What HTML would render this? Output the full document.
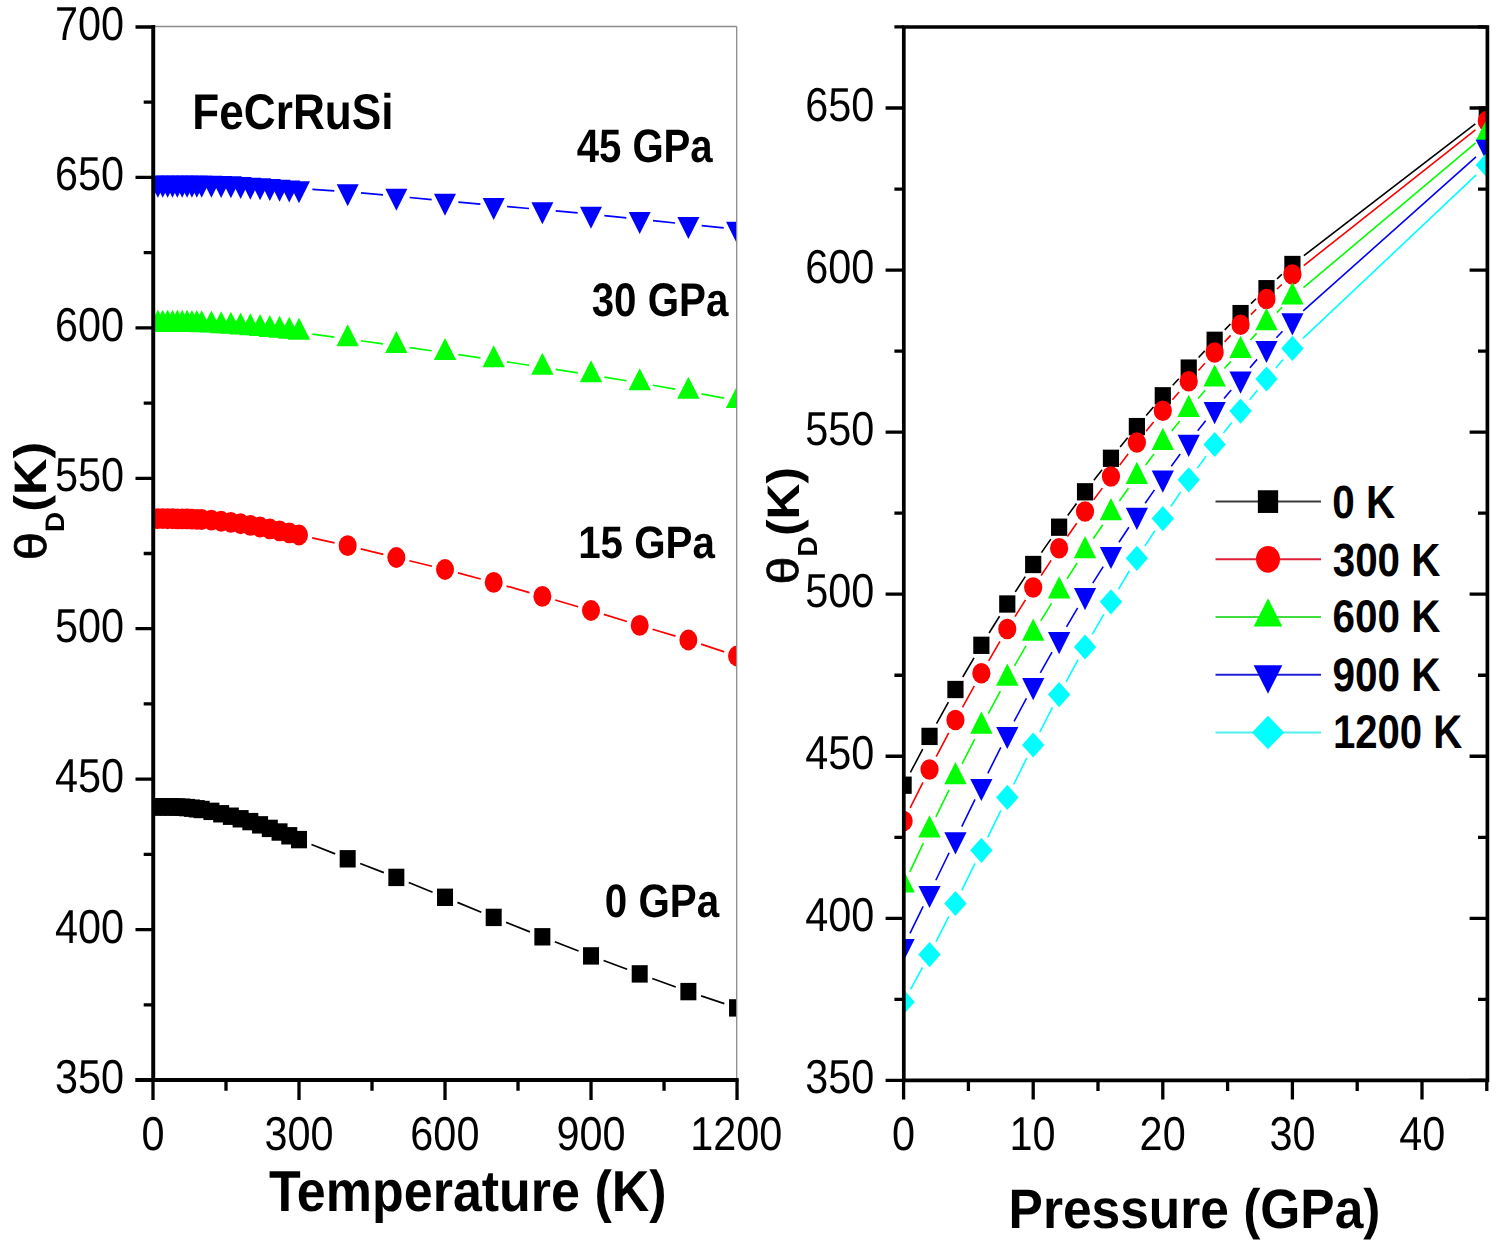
<!DOCTYPE html><html><head><meta charset="utf-8"><title>FeCrRuSi Debye temperature</title>
<style>html,body{margin:0;padding:0;background:#fff;overflow:hidden}svg{display:block}text{font-family:"Liberation Sans",sans-serif;text-rendering:geometricPrecision}.t{opacity:0.999}</style></head><body>
<svg width="1500" height="1255" viewBox="0 0 1500 1255">
<rect width="1500" height="1255" fill="#fff"/>
<defs><clipPath id="cl"><rect x="153" y="26.5" width="583.7" height="1053.5"/></clipPath><clipPath id="cr"><rect x="903.8" y="27" width="583.6" height="1053.4"/></clipPath></defs>
<g clip-path="url(#cl)">
<path d="M311.48 844.52L335.21 853.88M360.2 863.58L383.83 872.62M408.75 882.47L432.62 892.23M457.41 902.41L481.3 912.29M506.14 922.36L529.91 931.84M554.83 941.7L578.56 951M603.6 960.55L627.13 969.25M652.29 978.48L675.78 987.02M701.08 995.86L724.33 1003.64" stroke="#000000" stroke-width="1.7" fill="none"/>
<rect x="145" y="798.1" width="16" height="17.4" fill="#000000"/>
<rect x="149.87" y="798.11" width="16" height="17.4" fill="#000000"/>
<rect x="154.73" y="798.13" width="16" height="17.4" fill="#000000"/>
<rect x="159.6" y="798.18" width="16" height="17.4" fill="#000000"/>
<rect x="164.47" y="798.23" width="16" height="17.4" fill="#000000"/>
<rect x="169.34" y="798.3" width="16" height="17.4" fill="#000000"/>
<rect x="174.2" y="798.5" width="16" height="17.4" fill="#000000"/>
<rect x="179.07" y="798.9" width="16" height="17.4" fill="#000000"/>
<rect x="183.94" y="799.46" width="16" height="17.4" fill="#000000"/>
<rect x="188.8" y="800.11" width="16" height="17.4" fill="#000000"/>
<rect x="193.67" y="800.8" width="16" height="17.4" fill="#000000"/>
<rect x="203.4" y="802.65" width="16" height="17.4" fill="#000000"/>
<rect x="213.14" y="805.07" width="16" height="17.4" fill="#000000"/>
<rect x="222.87" y="807.52" width="16" height="17.4" fill="#000000"/>
<rect x="232.61" y="810.08" width="16" height="17.4" fill="#000000"/>
<rect x="242.34" y="812.9" width="16" height="17.4" fill="#000000"/>
<rect x="252.07" y="816.14" width="16" height="17.4" fill="#000000"/>
<rect x="261.81" y="819.69" width="16" height="17.4" fill="#000000"/>
<rect x="271.54" y="823.32" width="16" height="17.4" fill="#000000"/>
<rect x="281.28" y="827.09" width="16" height="17.4" fill="#000000"/>
<rect x="291.01" y="830.9" width="16" height="17.4" fill="#000000"/>
<rect x="339.68" y="850.1" width="16" height="17.4" fill="#000000"/>
<rect x="388.35" y="868.7" width="16" height="17.4" fill="#000000"/>
<rect x="437.02" y="888.6" width="16" height="17.4" fill="#000000"/>
<rect x="485.69" y="908.7" width="16" height="17.4" fill="#000000"/>
<rect x="534.36" y="928.1" width="16" height="17.4" fill="#000000"/>
<rect x="583.03" y="947.2" width="16" height="17.4" fill="#000000"/>
<rect x="631.7" y="965.2" width="16" height="17.4" fill="#000000"/>
<rect x="680.37" y="982.9" width="16" height="17.4" fill="#000000"/>
<rect x="729.04" y="999.2" width="16" height="17.4" fill="#000000"/>
<path d="M312.1 537.88L334.59 542.82M360.7 548.86L383.33 554.34M409.36 560.71L432.01 566.29M457.97 572.93L480.74 578.97M506.57 586.08L529.48 592.62M555.22 600.05L578.17 606.75M603.84 614.42L626.89 621.48M652.53 629.25L675.54 636.15M701.1 644.18L724.31 651.82" stroke="#ff0000" stroke-width="1.7" fill="none"/>
<ellipse cx="153" cy="518.7" rx="9" ry="10.4" fill="#ff0000"/>
<ellipse cx="157.87" cy="518.7" rx="9" ry="10.4" fill="#ff0000"/>
<ellipse cx="162.73" cy="518.72" rx="9" ry="10.4" fill="#ff0000"/>
<ellipse cx="167.6" cy="518.74" rx="9" ry="10.4" fill="#ff0000"/>
<ellipse cx="172.47" cy="518.77" rx="9" ry="10.4" fill="#ff0000"/>
<ellipse cx="177.34" cy="518.8" rx="9" ry="10.4" fill="#ff0000"/>
<ellipse cx="182.2" cy="518.86" rx="9" ry="10.4" fill="#ff0000"/>
<ellipse cx="187.07" cy="518.97" rx="9" ry="10.4" fill="#ff0000"/>
<ellipse cx="191.94" cy="519.12" rx="9" ry="10.4" fill="#ff0000"/>
<ellipse cx="196.8" cy="519.3" rx="9" ry="10.4" fill="#ff0000"/>
<ellipse cx="201.67" cy="519.5" rx="9" ry="10.4" fill="#ff0000"/>
<ellipse cx="211.4" cy="520.2" rx="9" ry="10.4" fill="#ff0000"/>
<ellipse cx="221.14" cy="521.24" rx="9" ry="10.4" fill="#ff0000"/>
<ellipse cx="230.87" cy="522.39" rx="9" ry="10.4" fill="#ff0000"/>
<ellipse cx="240.61" cy="523.77" rx="9" ry="10.4" fill="#ff0000"/>
<ellipse cx="250.34" cy="525.3" rx="9" ry="10.4" fill="#ff0000"/>
<ellipse cx="260.07" cy="526.99" rx="9" ry="10.4" fill="#ff0000"/>
<ellipse cx="269.81" cy="528.84" rx="9" ry="10.4" fill="#ff0000"/>
<ellipse cx="279.54" cy="530.79" rx="9" ry="10.4" fill="#ff0000"/>
<ellipse cx="289.28" cy="532.87" rx="9" ry="10.4" fill="#ff0000"/>
<ellipse cx="299.01" cy="535" rx="9" ry="10.4" fill="#ff0000"/>
<ellipse cx="347.68" cy="545.7" rx="9" ry="10.4" fill="#ff0000"/>
<ellipse cx="396.35" cy="557.5" rx="9" ry="10.4" fill="#ff0000"/>
<ellipse cx="445.02" cy="569.5" rx="9" ry="10.4" fill="#ff0000"/>
<ellipse cx="493.69" cy="582.4" rx="9" ry="10.4" fill="#ff0000"/>
<ellipse cx="542.36" cy="596.3" rx="9" ry="10.4" fill="#ff0000"/>
<ellipse cx="591.03" cy="610.5" rx="9" ry="10.4" fill="#ff0000"/>
<ellipse cx="639.7" cy="625.4" rx="9" ry="10.4" fill="#ff0000"/>
<ellipse cx="688.37" cy="640" rx="9" ry="10.4" fill="#ff0000"/>
<ellipse cx="737.04" cy="656" rx="9" ry="10.4" fill="#ff0000"/>
<path d="M312.29 334.17L334.4 337.13M360.95 340.75L383.08 343.85M409.62 347.58L431.75 350.72M458.28 354.56L480.43 357.84M506.93 361.84L529.12 365.26M555.6 369.37L577.79 372.83M604.25 377.07L626.48 380.73M652.9 385.23L675.17 389.17M701.54 393.96L723.87 398.14" stroke="#00ff00" stroke-width="1.7" fill="none"/>
<polygon points="153,309.63 164.2,331.63 141.8,331.63" fill="#00ff00"/>
<polygon points="157.87,309.64 169.07,331.64 146.67,331.64" fill="#00ff00"/>
<polygon points="162.73,309.65 173.93,331.65 151.53,331.65" fill="#00ff00"/>
<polygon points="167.6,309.68 178.8,331.68 156.4,331.68" fill="#00ff00"/>
<polygon points="172.47,309.7 183.67,331.7 161.27,331.7" fill="#00ff00"/>
<polygon points="177.34,309.73 188.53,331.73 166.14,331.73" fill="#00ff00"/>
<polygon points="182.2,309.78 193.4,331.78 171,331.78" fill="#00ff00"/>
<polygon points="187.07,309.84 198.27,331.84 175.87,331.84" fill="#00ff00"/>
<polygon points="191.94,309.92 203.14,331.92 180.74,331.92" fill="#00ff00"/>
<polygon points="196.8,310.02 208,332.02 185.6,332.02" fill="#00ff00"/>
<polygon points="201.67,310.13 212.87,332.13 190.47,332.13" fill="#00ff00"/>
<polygon points="211.4,310.56 222.6,332.56 200.2,332.56" fill="#00ff00"/>
<polygon points="221.14,311.21 232.34,333.21 209.94,333.21" fill="#00ff00"/>
<polygon points="230.87,311.86 242.07,333.86 219.67,333.86" fill="#00ff00"/>
<polygon points="240.61,312.58 251.81,334.58 229.41,334.58" fill="#00ff00"/>
<polygon points="250.34,313.33 261.54,335.33 239.14,335.33" fill="#00ff00"/>
<polygon points="260.07,314.1 271.27,336.1 248.87,336.1" fill="#00ff00"/>
<polygon points="269.81,314.91 281.01,336.91 258.61,336.91" fill="#00ff00"/>
<polygon points="279.54,315.78 290.74,337.78 268.34,337.78" fill="#00ff00"/>
<polygon points="289.28,316.71 300.48,338.71 278.08,338.71" fill="#00ff00"/>
<polygon points="299.01,317.73 310.21,339.73 287.81,339.73" fill="#00ff00"/>
<polygon points="347.68,324.23 358.88,346.23 336.48,346.23" fill="#00ff00"/>
<polygon points="396.35,331.03 407.55,353.03 385.15,353.03" fill="#00ff00"/>
<polygon points="445.02,337.93 456.22,359.93 433.82,359.93" fill="#00ff00"/>
<polygon points="493.69,345.13 504.89,367.13 482.49,367.13" fill="#00ff00"/>
<polygon points="542.36,352.63 553.56,374.63 531.16,374.63" fill="#00ff00"/>
<polygon points="591.03,360.23 602.23,382.23 579.83,382.23" fill="#00ff00"/>
<polygon points="639.7,368.23 650.9,390.23 628.5,390.23" fill="#00ff00"/>
<polygon points="688.37,376.83 699.57,398.83 677.17,398.83" fill="#00ff00"/>
<polygon points="737.04,385.93 748.24,407.93 725.84,407.93" fill="#00ff00"/>
<path d="M312.38 189.45L334.31 190.85M361.02 192.93L383.01 194.97M409.69 197.52L431.68 199.68M458.37 202.18L480.34 204.12M507.04 206.51L529.01 208.49M555.7 210.93L577.69 212.97M604.36 215.6L626.37 217.9M653.03 220.7L675.04 223M701.71 225.72L723.7 227.88" stroke="#0000ff" stroke-width="1.7" fill="none"/>
<polygon points="153,197.67 164,175.67 142,175.67" fill="#0000ff"/>
<polygon points="157.87,197.67 168.87,175.67 146.87,175.67" fill="#0000ff"/>
<polygon points="162.73,197.67 173.73,175.67 151.73,175.67" fill="#0000ff"/>
<polygon points="167.6,197.67 178.6,175.67 156.6,175.67" fill="#0000ff"/>
<polygon points="172.47,197.67 183.47,175.67 161.47,175.67" fill="#0000ff"/>
<polygon points="177.34,197.67 188.34,175.67 166.34,175.67" fill="#0000ff"/>
<polygon points="182.2,197.67 193.2,175.67 171.2,175.67" fill="#0000ff"/>
<polygon points="187.07,197.67 198.07,175.67 176.07,175.67" fill="#0000ff"/>
<polygon points="191.94,197.67 202.94,175.67 180.94,175.67" fill="#0000ff"/>
<polygon points="196.8,197.67 207.8,175.67 185.8,175.67" fill="#0000ff"/>
<polygon points="201.67,197.67 212.67,175.67 190.67,175.67" fill="#0000ff"/>
<polygon points="211.4,197.77 222.4,175.77 200.4,175.77" fill="#0000ff"/>
<polygon points="221.14,198.02 232.14,176.02 210.14,176.02" fill="#0000ff"/>
<polygon points="230.87,198.37 241.87,176.37 219.87,176.37" fill="#0000ff"/>
<polygon points="240.61,198.99 251.61,176.99 229.61,176.99" fill="#0000ff"/>
<polygon points="250.34,199.67 261.34,177.67 239.34,177.67" fill="#0000ff"/>
<polygon points="260.07,200.28 271.07,178.28 249.07,178.28" fill="#0000ff"/>
<polygon points="269.81,200.92 280.81,178.92 258.81,178.92" fill="#0000ff"/>
<polygon points="279.54,201.65 290.54,179.65 268.54,179.65" fill="#0000ff"/>
<polygon points="289.28,202.48 300.28,180.48 278.28,180.48" fill="#0000ff"/>
<polygon points="299.01,203.27 310.01,181.27 288.01,181.27" fill="#0000ff"/>
<polygon points="347.68,206.37 358.68,184.37 336.68,184.37" fill="#0000ff"/>
<polygon points="396.35,210.87 407.35,188.87 385.35,188.87" fill="#0000ff"/>
<polygon points="445.02,215.67 456.02,193.67 434.02,193.67" fill="#0000ff"/>
<polygon points="493.69,219.97 504.69,197.97 482.69,197.97" fill="#0000ff"/>
<polygon points="542.36,224.37 553.36,202.37 531.36,202.37" fill="#0000ff"/>
<polygon points="591.03,228.87 602.03,206.87 580.03,206.87" fill="#0000ff"/>
<polygon points="639.7,233.97 650.7,211.97 628.7,211.97" fill="#0000ff"/>
<polygon points="688.37,239.07 699.37,217.07 677.37,217.07" fill="#0000ff"/>
<polygon points="737.04,243.87 748.04,221.87 726.04,221.87" fill="#0000ff"/>
</g>
<g clip-path="url(#cr)">
<path d="M910.4 772.39L922.72 749.21M936.53 723.71L948.43 702.19M962.77 676.99L974.03 657.81M989.07 633.02L999.57 616.28M1015.24 591.88L1025.24 576.62M1041.47 552.59L1050.85 539.11M1067.69 515.5L1076.47 503.5M1093.91 480.33L1102.09 469.77M1120.14 447.07L1127.7 437.83M1146.22 415.51L1153.46 406.89M1172.71 385.21L1178.81 378.69M1198.61 357.49L1204.75 350.91M1224.74 329.9L1230.46 324M1251.02 303.55L1256.02 298.75M1277.08 278.8L1281.8 274.4M1303.89 255.66L1475.31 123.84" stroke="#000000" stroke-width="1.6" fill="none"/>
<rect x="895.5" y="776.55" width="16.2" height="17.3" fill="#000000"/>
<rect x="921.42" y="727.75" width="16.2" height="17.3" fill="#000000"/>
<rect x="947.34" y="680.85" width="16.2" height="17.3" fill="#000000"/>
<rect x="973.26" y="636.65" width="16.2" height="17.3" fill="#000000"/>
<rect x="999.18" y="595.35" width="16.2" height="17.3" fill="#000000"/>
<rect x="1025.1" y="555.85" width="16.2" height="17.3" fill="#000000"/>
<rect x="1051.02" y="518.55" width="16.2" height="17.3" fill="#000000"/>
<rect x="1076.94" y="483.15" width="16.2" height="17.3" fill="#000000"/>
<rect x="1102.86" y="449.65" width="16.2" height="17.3" fill="#000000"/>
<rect x="1128.78" y="417.95" width="16.2" height="17.3" fill="#000000"/>
<rect x="1154.7" y="387.15" width="16.2" height="17.3" fill="#000000"/>
<rect x="1180.62" y="359.45" width="16.2" height="17.3" fill="#000000"/>
<rect x="1206.54" y="331.65" width="16.2" height="17.3" fill="#000000"/>
<rect x="1232.46" y="304.95" width="16.2" height="17.3" fill="#000000"/>
<rect x="1258.38" y="280.05" width="16.2" height="17.3" fill="#000000"/>
<rect x="1284.3" y="255.85" width="16.2" height="17.3" fill="#000000"/>
<rect x="1478.7" y="106.35" width="16.2" height="17.3" fill="#000000"/>
<path d="M910.13 807.95L922.99 782.45M936.25 756.65L948.71 732.85M962.48 707.32L974.32 685.98M988.67 660.78L999.97 641.42M1014.99 616.62L1025.49 599.88M1041.18 575.5L1051.14 560.4M1067.45 536.43L1076.71 523.27M1093.69 499.76L1102.31 488.14M1119.75 464.97L1128.09 454.03M1146.04 431.26L1153.64 421.94M1172.37 399.81L1179.15 392.09M1198.44 370.44L1204.92 363.26M1224.55 341.91L1230.65 335.39M1250.84 314.57L1256.2 309.23M1277.02 289.04L1281.86 284.46M1303.78 265.51L1475.42 129.99" stroke="#ff0000" stroke-width="1.6" fill="none"/>
<ellipse cx="903.6" cy="820.9" rx="9.1" ry="10.25" fill="#ff0000"/>
<ellipse cx="929.52" cy="769.5" rx="9.1" ry="10.25" fill="#ff0000"/>
<ellipse cx="955.44" cy="720" rx="9.1" ry="10.25" fill="#ff0000"/>
<ellipse cx="981.36" cy="673.3" rx="9.1" ry="10.25" fill="#ff0000"/>
<ellipse cx="1007.28" cy="628.9" rx="9.1" ry="10.25" fill="#ff0000"/>
<ellipse cx="1033.2" cy="587.6" rx="9.1" ry="10.25" fill="#ff0000"/>
<ellipse cx="1059.12" cy="548.3" rx="9.1" ry="10.25" fill="#ff0000"/>
<ellipse cx="1085.04" cy="511.4" rx="9.1" ry="10.25" fill="#ff0000"/>
<ellipse cx="1110.96" cy="476.5" rx="9.1" ry="10.25" fill="#ff0000"/>
<ellipse cx="1136.88" cy="442.5" rx="9.1" ry="10.25" fill="#ff0000"/>
<ellipse cx="1162.8" cy="410.7" rx="9.1" ry="10.25" fill="#ff0000"/>
<ellipse cx="1188.72" cy="381.2" rx="9.1" ry="10.25" fill="#ff0000"/>
<ellipse cx="1214.64" cy="352.5" rx="9.1" ry="10.25" fill="#ff0000"/>
<ellipse cx="1240.56" cy="324.8" rx="9.1" ry="10.25" fill="#ff0000"/>
<ellipse cx="1266.48" cy="299" rx="9.1" ry="10.25" fill="#ff0000"/>
<ellipse cx="1292.4" cy="274.5" rx="9.1" ry="10.25" fill="#ff0000"/>
<ellipse cx="1486.8" cy="121" rx="9.1" ry="10.25" fill="#ff0000"/>
<path d="M909.78 871.88L923.34 843.12M935.87 816.96L949.09 789.84M962.06 763.9L974.74 739.2M988.26 713.55L1000.38 691.15M1014.51 665.83L1025.97 645.87M1040.78 620.94L1051.54 603.36M1066.98 578.81L1077.18 562.99M1093.21 538.82L1102.79 524.78M1119.39 501L1128.45 488.3M1145.67 464.97L1154.01 454.03M1171.76 431.1L1179.76 420.9M1198.15 398.48L1205.21 390.22M1224.38 368.46L1230.82 361.34M1250.45 339.99L1256.59 333.41M1276.76 312.57L1282.12 307.23M1303.5 287.67L1475.7 142.83" stroke="#00ff00" stroke-width="1.6" fill="none"/>
<polygon points="903.6,870.2 914.8,892.4 892.4,892.4" fill="#00ff00"/>
<polygon points="929.52,815.2 940.72,837.4 918.32,837.4" fill="#00ff00"/>
<polygon points="955.44,762 966.64,784.2 944.24,784.2" fill="#00ff00"/>
<polygon points="981.36,711.5 992.56,733.7 970.16,733.7" fill="#00ff00"/>
<polygon points="1007.28,663.6 1018.48,685.8 996.08,685.8" fill="#00ff00"/>
<polygon points="1033.2,618.5 1044.4,640.7 1022,640.7" fill="#00ff00"/>
<polygon points="1059.12,576.2 1070.32,598.4 1047.92,598.4" fill="#00ff00"/>
<polygon points="1085.04,536 1096.24,558.2 1073.84,558.2" fill="#00ff00"/>
<polygon points="1110.96,498 1122.16,520.2 1099.76,520.2" fill="#00ff00"/>
<polygon points="1136.88,461.7 1148.08,483.9 1125.68,483.9" fill="#00ff00"/>
<polygon points="1162.8,427.7 1174,449.9 1151.6,449.9" fill="#00ff00"/>
<polygon points="1188.72,394.7 1199.92,416.9 1177.52,416.9" fill="#00ff00"/>
<polygon points="1214.64,364.4 1225.84,386.6 1203.44,386.6" fill="#00ff00"/>
<polygon points="1240.56,335.8 1251.76,358 1229.36,358" fill="#00ff00"/>
<polygon points="1266.48,308 1277.68,330.2 1255.28,330.2" fill="#00ff00"/>
<polygon points="1292.4,282.2 1303.6,304.4 1281.2,304.4" fill="#00ff00"/>
<polygon points="1486.8,118.7 1498,140.9 1475.6,140.9" fill="#00ff00"/>
<path d="M909.96 933.37L923.16 906.33M935.83 880.25L949.13 852.75M961.77 826.66L975.03 799.34M987.83 773.32L1000.81 747.28M1014.08 721.49L1026.4 698.31M1040.31 672.86L1052.01 652.04M1066.48 626.91L1077.68 607.89M1092.77 583.14L1103.23 566.56M1118.96 542.2L1128.88 527.2M1145.18 503.21L1154.5 489.89M1171.3 466.26L1180.22 453.94M1197.73 430.84L1205.63 420.86M1224.01 398.44L1231.19 389.96M1249.93 367.84L1257.11 359.36M1276.39 337.71L1282.49 331.19M1303.22 310.95L1475.98 156.85" stroke="#0000ff" stroke-width="1.6" fill="none"/>
<polygon points="903.6,961.2 914.7,939 892.5,939" fill="#0000ff"/>
<polygon points="929.52,908.1 940.62,885.9 918.42,885.9" fill="#0000ff"/>
<polygon points="955.44,854.5 966.54,832.3 944.34,832.3" fill="#0000ff"/>
<polygon points="981.36,801.1 992.46,778.9 970.26,778.9" fill="#0000ff"/>
<polygon points="1007.28,749.1 1018.38,726.9 996.18,726.9" fill="#0000ff"/>
<polygon points="1033.2,700.3 1044.3,678.1 1022.1,678.1" fill="#0000ff"/>
<polygon points="1059.12,654.2 1070.22,632 1048.02,632" fill="#0000ff"/>
<polygon points="1085.04,610.2 1096.14,588 1073.94,588" fill="#0000ff"/>
<polygon points="1110.96,569.1 1122.06,546.9 1099.86,546.9" fill="#0000ff"/>
<polygon points="1136.88,529.9 1147.98,507.7 1125.78,507.7" fill="#0000ff"/>
<polygon points="1162.8,492.8 1173.9,470.6 1151.7,470.6" fill="#0000ff"/>
<polygon points="1188.72,457 1199.82,434.8 1177.62,434.8" fill="#0000ff"/>
<polygon points="1214.64,424.3 1225.74,402.1 1203.54,402.1" fill="#0000ff"/>
<polygon points="1240.56,393.7 1251.66,371.5 1229.46,371.5" fill="#0000ff"/>
<polygon points="1266.48,363.1 1277.58,340.9 1255.38,340.9" fill="#0000ff"/>
<polygon points="1292.4,335.4 1303.5,313.2 1281.3,313.2" fill="#0000ff"/>
<polygon points="1486.8,162 1497.9,139.8 1475.7,139.8" fill="#0000ff"/>
<path d="M910.56 989.28L922.56 967.32M936.08 941.67L948.88 916.43M961.79 890.46L975.01 863.34M987.74 837.28L1000.9 810.42M1013.71 784.4L1026.77 758M1039.83 732.11L1052.49 707.49M1066.05 681.87L1078.11 659.73M1092.25 634.42L1103.75 614.38M1118.38 589.34L1129.46 570.76M1144.81 546.16L1154.87 530.74M1170.85 506.54L1180.67 491.86M1197.3 468.11L1206.06 456.19M1223.53 433.04L1231.67 422.56M1249.67 399.82L1257.37 390.28M1275.85 367.94L1283.03 359.46M1302.95 338.45L1476.25 174.95" stroke="#00ffff" stroke-width="1.6" fill="none"/>
<polygon points="903.6,989.4 914.8,1002 903.6,1014.6 892.4,1002" fill="#00ffff"/>
<polygon points="929.52,942 940.72,954.6 929.52,967.2 918.32,954.6" fill="#00ffff"/>
<polygon points="955.44,890.9 966.64,903.5 955.44,916.1 944.24,903.5" fill="#00ffff"/>
<polygon points="981.36,837.7 992.56,850.3 981.36,862.9 970.16,850.3" fill="#00ffff"/>
<polygon points="1007.28,784.8 1018.48,797.4 1007.28,810 996.08,797.4" fill="#00ffff"/>
<polygon points="1033.2,732.4 1044.4,745 1033.2,757.6 1022,745" fill="#00ffff"/>
<polygon points="1059.12,682 1070.32,694.6 1059.12,707.2 1047.92,694.6" fill="#00ffff"/>
<polygon points="1085.04,634.4 1096.24,647 1085.04,659.6 1073.84,647" fill="#00ffff"/>
<polygon points="1110.96,589.2 1122.16,601.8 1110.96,614.4 1099.76,601.8" fill="#00ffff"/>
<polygon points="1136.88,545.7 1148.08,558.3 1136.88,570.9 1125.68,558.3" fill="#00ffff"/>
<polygon points="1162.8,506 1174,518.6 1162.8,531.2 1151.6,518.6" fill="#00ffff"/>
<polygon points="1188.72,467.2 1199.92,479.8 1188.72,492.4 1177.52,479.8" fill="#00ffff"/>
<polygon points="1214.64,431.9 1225.84,444.5 1214.64,457.1 1203.44,444.5" fill="#00ffff"/>
<polygon points="1240.56,398.5 1251.76,411.1 1240.56,423.7 1229.36,411.1" fill="#00ffff"/>
<polygon points="1266.48,366.4 1277.68,379 1266.48,391.6 1255.28,379" fill="#00ffff"/>
<polygon points="1292.4,335.8 1303.6,348.4 1292.4,361 1281.2,348.4" fill="#00ffff"/>
<polygon points="1486.8,152.4 1498,165 1486.8,177.6 1475.6,165" fill="#00ffff"/>
</g>
<g stroke="#8c8c8c" stroke-width="1.3" fill="none"><path d="M153 26.5H736.7"/><path d="M736.7 26.5V1080"/></g>
<path d="M153.3 25V1081.5M135.5 1080H738.5M135.5 27H153M135.5 177.43H153M135.5 327.86H153M135.5 478.29H153M135.5 628.71H153M135.5 779.14H153M135.5 929.57H153M135.5 1080H153M143.7 102.21H153M143.7 252.64H153M143.7 403.07H153M143.7 553.5H153M143.7 703.93H153M143.7 854.36H153M143.7 1004.79H153M153 1080V1100M299.01 1080V1100M445.02 1080V1100M591.03 1080V1100M737.04 1080V1100M226 1080V1090.7M372.01 1080V1090.7M518.03 1080V1090.7M664.04 1080V1090.7" stroke="#000" stroke-width="3.3" fill="none"/>
<path d="M153.3 25V1081.5M135.5 1080H738.5" stroke="#000" stroke-width="3.8" fill="none"/>
<path d="M885.6 1080.4H903.8M885.6 108H903.8M1469.6 108H1487.4M885.6 270.06H903.8M1469.6 270.06H1487.4M885.6 432.13H903.8M1469.6 432.13H1487.4M885.6 594.19H903.8M1469.6 594.19H1487.4M885.6 756.26H903.8M1469.6 756.26H1487.4M885.6 918.32H903.8M1469.6 918.32H1487.4M885.6 1080.39H903.8M1469.6 1080.39H1487.4M894.4 26.97H903.8M1478 26.97H1487.4M894.4 189.03H903.8M1478 189.03H1487.4M894.4 351.1H903.8M1478 351.1H1487.4M894.4 513.16H903.8M1478 513.16H1487.4M894.4 675.23H903.8M1478 675.23H1487.4M894.4 837.29H903.8M1478 837.29H1487.4M894.4 999.36H903.8M1478 999.36H1487.4M903.6 1080.4V1099.6M1033.2 1080.4V1099.6M1162.8 1080.4V1099.6M1292.4 1080.4V1099.6M1422 1080.4V1099.6M968.4 1080.4V1091M1098 1080.4V1091M1227.6 1080.4V1091M1357.2 1080.4V1091M1486.8 1080.4V1091" stroke="#000" stroke-width="3.3" fill="none" stroke-linejoin="miter"/>
<path d="M903.8 27H1487.4V1080.4H903.8Z" stroke="#000" stroke-width="3.7" fill="none" stroke-linejoin="miter"/>
<g class="t">
<text transform="matrix(0.41412 0 0 0.476 55.0055 40.022)" font-size="100" font-weight="normal" fill="#000">700</text>
<text transform="matrix(0.41412 0 0 0.476 55.0055 190.4505)" font-size="100" font-weight="normal" fill="#000">650</text>
<text transform="matrix(0.41412 0 0 0.476 55.0055 340.879)" font-size="100" font-weight="normal" fill="#000">600</text>
<text transform="matrix(0.41412 0 0 0.476 55.0055 491.3075)" font-size="100" font-weight="normal" fill="#000">550</text>
<text transform="matrix(0.41412 0 0 0.476 55.0055 641.736)" font-size="100" font-weight="normal" fill="#000">500</text>
<text transform="matrix(0.41412 0 0 0.476 55.0055 792.1645)" font-size="100" font-weight="normal" fill="#000">450</text>
<text transform="matrix(0.41412 0 0 0.476 55.0055 942.593)" font-size="100" font-weight="normal" fill="#000">400</text>
<text transform="matrix(0.41412 0 0 0.476 55.0055 1093.0215)" font-size="100" font-weight="normal" fill="#000">350</text>
<text transform="matrix(0.41412 0 0 0.476 141.50817 1149.72)" font-size="100" font-weight="normal" fill="#000">0</text>
<text transform="matrix(0.41412 0 0 0.476 264.53451 1149.72)" font-size="100" font-weight="normal" fill="#000">300</text>
<text transform="matrix(0.41412 0 0 0.476 410.33745 1149.72)" font-size="100" font-weight="normal" fill="#000">600</text>
<text transform="matrix(0.41412 0 0 0.476 556.45098 1149.72)" font-size="100" font-weight="normal" fill="#000">900</text>
<text transform="matrix(0.41412 0 0 0.476 690.24444 1149.72)" font-size="100" font-weight="normal" fill="#000">1200</text>
<text transform="matrix(0.41412 0 0 0.476 805.3055 120.822)" font-size="100" font-weight="normal" fill="#000">650</text>
<text transform="matrix(0.41412 0 0 0.476 805.3055 282.887)" font-size="100" font-weight="normal" fill="#000">600</text>
<text transform="matrix(0.41412 0 0 0.476 805.3055 444.952)" font-size="100" font-weight="normal" fill="#000">550</text>
<text transform="matrix(0.41412 0 0 0.476 805.3055 607.017)" font-size="100" font-weight="normal" fill="#000">500</text>
<text transform="matrix(0.41412 0 0 0.476 805.3055 769.082)" font-size="100" font-weight="normal" fill="#000">450</text>
<text transform="matrix(0.41412 0 0 0.476 805.3055 931.147)" font-size="100" font-weight="normal" fill="#000">400</text>
<text transform="matrix(0.41412 0 0 0.476 805.3055 1093.212)" font-size="100" font-weight="normal" fill="#000">350</text>
<text transform="matrix(0.41412 0 0 0.476 892.10817 1149.92)" font-size="100" font-weight="normal" fill="#000">0</text>
<text transform="matrix(0.41412 0 0 0.476 1009.49163 1149.92)" font-size="100" font-weight="normal" fill="#000">10</text>
<text transform="matrix(0.41412 0 0 0.476 1139.60928 1149.92)" font-size="100" font-weight="normal" fill="#000">20</text>
<text transform="matrix(0.41412 0 0 0.476 1269.41634 1149.92)" font-size="100" font-weight="normal" fill="#000">30</text>
<text transform="matrix(0.41412 0 0 0.476 1399.32693 1149.92)" font-size="100" font-weight="normal" fill="#000">40</text>
<text transform="matrix(0.51976 0 0 0.57754 268.98024 1211.37166)" font-size="100" font-weight="bold" fill="#000">Temperature (K)</text>
<text transform="matrix(0.51469 0 0 0.55508 1008.55453 1228.04332)" font-size="100" font-weight="bold" fill="#000">Pressure (GPa)</text>
<text transform="matrix(0 -0.50549 0.44218 0 46.05782 560.12747)" font-size="100" font-weight="normal" fill="#000" stroke="#000" stroke-width="1.6">θ</text>
<text transform="matrix(0 -0.27967 0.26812 0 63.7 532.01789)" font-size="100" font-weight="bold" fill="#000">D</text>
<text transform="matrix(0 -0.50388 0.45561 0 46.43209 511.71938)" font-size="100" font-weight="bold" fill="#000">(K)</text>
<text transform="matrix(0 -0.5033 0.43401 0 798.46599 584.51648)" font-size="100" font-weight="normal" fill="#000" stroke="#000" stroke-width="1.6">θ</text>
<text transform="matrix(0 -0.27805 0.27681 0 816.7 556.40732)" font-size="100" font-weight="bold" fill="#000">D</text>
<text transform="matrix(0 -0.49845 0.45561 0 799.43209 536.09225)" font-size="100" font-weight="bold" fill="#000">(K)</text>
<text transform="matrix(0.44163 0 0 0.50204 192.32941 129.29796)" font-size="100" font-weight="bold" fill="#000">FeCrRuSi</text>
<text transform="matrix(0.40089 0 0 0.46901 576.69867 162.33099)" font-size="100" font-weight="bold" fill="#000">45 GPa</text>
<text transform="matrix(0.40296 0 0 0.47183 591.69259 315.72817)" font-size="100" font-weight="bold" fill="#000">30 GPa</text>
<text transform="matrix(0.403 0 0 0.45352 578.18051 558.14648)" font-size="100" font-weight="bold" fill="#000">15 GPa</text>
<text transform="matrix(0.40321 0 0 0.46901 604.78717 917.33099)" font-size="100" font-weight="bold" fill="#000">0 GPa</text>
</g>
<path d="M1215.5 501.6H1321" stroke="#3a3a3a" stroke-width="2"/>
<rect x="1257.85" y="490.25" width="20.3" height="22.7" fill="#000000"/>
<g class="t">
<text transform="matrix(0.40399 0 0 0.4662 1332.18405 517.7338)" font-size="100" font-weight="bold" fill="#000">0 K</text>
</g>
<path d="M1215.5 559.3H1321" stroke="#e0203a" stroke-width="2"/>
<ellipse cx="1268" cy="559.3" rx="12" ry="13.4" fill="#ff0000"/>
<g class="t">
<text transform="matrix(0.40304 0 0 0.4662 1332.7924 575.7338)" font-size="100" font-weight="bold" fill="#000">300 K</text>
</g>
<path d="M1215.5 617H1321" stroke="#40e040" stroke-width="2"/>
<polygon points="1268,598.2 1282.35,626.4 1253.65,626.4" fill="#00ff00"/>
<g class="t">
<text transform="matrix(0.40458 0 0 0.45775 1332.38397 632.44225)" font-size="100" font-weight="bold" fill="#000">600 K</text>
</g>
<path d="M1215.5 674.7H1321" stroke="#2020d8" stroke-width="2"/>
<polygon points="1268,693.83 1282.35,665.13 1253.65,665.13" fill="#0000ff"/>
<g class="t">
<text transform="matrix(0.40496 0 0 0.47324 1332.48263 690.72676)" font-size="100" font-weight="bold" fill="#000">900 K</text>
</g>
<path d="M1215.5 732.4H1321" stroke="#50f0f0" stroke-width="2"/>
<polygon points="1268,715.65 1284.15,732.4 1268,749.15 1251.85,732.4" fill="#00ffff"/>
<g class="t">
<text transform="matrix(0.40127 0 0 0.47324 1332.89175 748.32676)" font-size="100" font-weight="bold" fill="#000">1200 K</text>
</g>
</svg></body></html>
